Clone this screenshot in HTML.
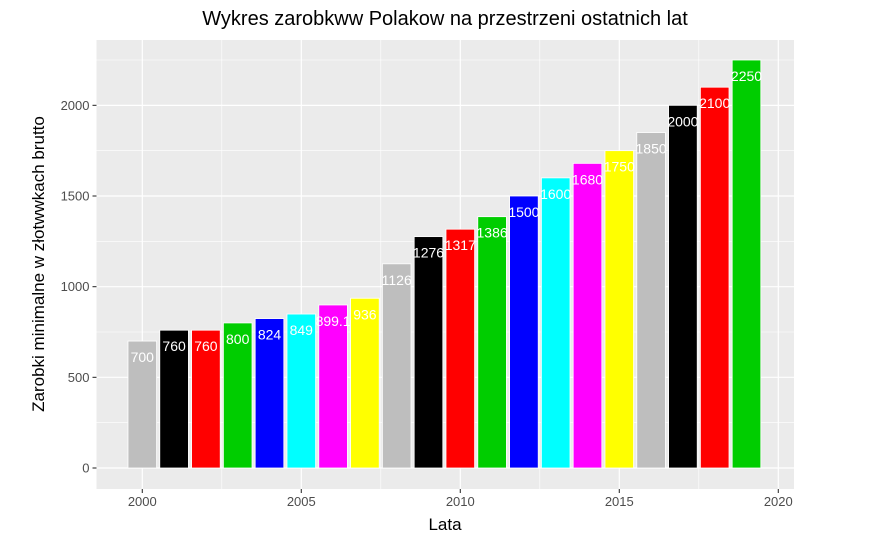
<!DOCTYPE html>
<html><head><meta charset="utf-8"><style>
body{margin:0;background:#fff}
svg{display:block;font-family:"Liberation Sans",sans-serif}
</style></head><body>
<svg id="c" width="869" height="544">
<rect x="0" y="0" width="869" height="544" fill="#fff"/>
<rect x="96.5" y="40" width="697.5" height="449" fill="#ebebeb"/>
<g id="grid"></g><g id="bars"></g><g id="labels"></g><g id="axes"></g>
<text x="445" y="25" text-anchor="middle" font-size="20" fill="#000">Wykres zarobkww Polakow na przestrzeni ostatnich lat</text>
<text x="445" y="530" text-anchor="middle" font-size="17" fill="#000">Lata</text>
<text transform="translate(44,264) rotate(-90)" text-anchor="middle" font-size="17" fill="#000">Zarobki minimalne w złotwwkach brutto</text>
</svg>
<script>
const years=[2000,2001,2002,2003,2004,2005,2006,2007,2008,2009,2010,2011,2012,2013,2014,2015,2016,2017,2018,2019];
const values=[700,760,760,800,824,849,899.1,936,1126,1276,1317,1386,1500,1600,1680,1750,1850,2000,2100,2250];
const colors=["#bebebe","#000000","#ff0000","#00cd00","#0000ff","#00ffff","#ff00ff","#ffff00"];
const yTicks=[0,500,1000,1500,2000];
const yMinor=[250,750,1250,1750,2250];
const xTicks=[2000,2005,2010,2015,2020];
const xMinor=[2002.5,2007.5,2012.5,2017.5];
const NS="http://www.w3.org/2000/svg";
const x=v=>142.3+(v-2000)*31.8;
const y=v=>468-v*0.18133;
const L=96.5,R=794,T=40,B=489;
function el(t,a,p){const e=document.createElementNS(NS,t);for(const k in a)e.setAttribute(k,a[k]);document.getElementById(p).appendChild(e);return e;}
yMinor.forEach(v=>{const e=el('line',{x1:L,x2:R,y1:y(v),y2:y(v),stroke:'#fff','stroke-width':0.6},'grid');

});
xMinor.forEach(v=>{const e=el('line',{x1:x(v),x2:x(v),y1:T,y2:B,stroke:'#fff','stroke-width':0.6},'grid');

});
yTicks.forEach(v=>{const e=el('line',{x1:L,x2:R,y1:y(v),y2:y(v),stroke:'#fff','stroke-width':1.2},'grid');


const t=el('line',{x1:L-4,x2:L,y1:y(v),y2:y(v),stroke:'#333','stroke-width':1.1},'axes');


const l=el('text',{x:L-7,y:y(v)+4.5,'text-anchor':'end','font-size':13,fill:'#4d4d4d'},'axes');l.textContent=v;

});
xTicks.forEach(v=>{const e=el('line',{x1:x(v),x2:x(v),y1:T,y2:B,stroke:'#fff','stroke-width':1.2},'grid');


const t=el('line',{x1:x(v),x2:x(v),y1:B,y2:B+4,stroke:'#333','stroke-width':1.1},'axes');


const l=el('text',{x:x(v),y:B+17,'text-anchor':'middle','font-size':13,fill:'#4d4d4d'},'axes');l.textContent=v;

});
const w=31.8*0.9;
years.forEach((yr,i)=>{const v=values[i];
const b=el('rect',{x:x(yr)-w/2,y:y(v),width:w,height:y(0)-y(v),fill:colors[i%8],stroke:'#fff','stroke-width':0.8},'bars');


const t=el('text',{x:x(yr),y:y(v)+21,'text-anchor':'middle','font-size':14,fill:'#fff'},'labels');t.textContent=v;

});
</script>
</body></html>
